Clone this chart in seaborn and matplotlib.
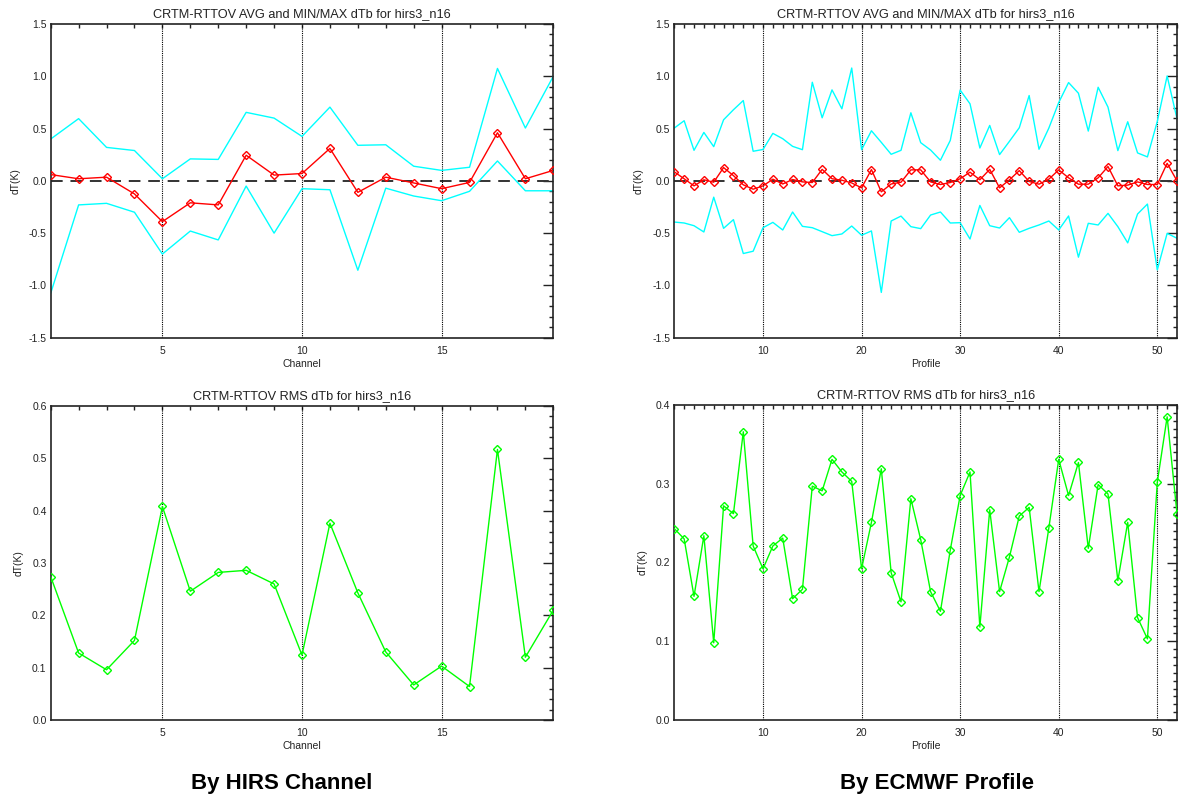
import numpy as np
import pandas as pd
import matplotlib
matplotlib.use("Agg")
import matplotlib.pyplot as plt
from matplotlib.ticker import MultipleLocator, FormatStrFormatter
import seaborn as sns

# ---------------- data ----------------
channels = list(range(1, 20))
chan_avg = [0.06, 0.02, 0.035, -0.125, -0.39, -0.21, -0.23, 0.245, 0.055, 0.07,
            0.31, -0.11, 0.035, -0.02, -0.075, -0.015, 0.46, 0.02, 0.10]
chan_max = [0.40, 0.595, 0.32, 0.29, 0.02, 0.21, 0.205, 0.655, 0.60, 0.425,
            0.705, 0.34, 0.345, 0.14, 0.10, 0.13, 1.075, 0.505, 1.0]
chan_min = [-1.075, -0.23, -0.215, -0.30, -0.70, -0.48, -0.565, -0.05, -0.50, -0.075,
            -0.085, -0.855, -0.07, -0.145, -0.19, -0.10, 0.19, -0.095, -0.095]
chan_rms = [0.274, 0.128, 0.096, 0.152, 0.408, 0.246, 0.282, 0.286, 0.260, 0.124,
            0.376, 0.243, 0.130, 0.067, 0.103, 0.064, 0.517, 0.120, 0.210]

profiles = list(range(1, 53))
prof_avg = [0.086, 0.02, -0.048, 0.01, -0.013, 0.127, 0.05, -0.038, -0.08, -0.048,
            0.016, -0.03, 0.013, -0.01, -0.016, 0.11, 0.02, 0.006, -0.02, -0.067,
            0.108, -0.105, -0.03, -0.013, 0.105, 0.105, -0.01, -0.035, -0.016, 0.02,
            0.083, 0.01, 0.11, -0.067, 0.01, 0.098, -0.006, -0.032, 0.016, 0.105,
            0.029, -0.032, -0.032, 0.029, 0.137, -0.048, -0.041, -0.01, -0.035, -0.035,
            0.168, 0.0]
prof_max = [0.505, 0.575, 0.292, 0.463, 0.327, 0.584, 0.68, 0.768, 0.283, 0.30,
            0.454, 0.403, 0.33, 0.298, 0.943, 0.603, 0.87, 0.689, 1.079, 0.298,
            0.479, 0.368, 0.254, 0.292, 0.651, 0.365, 0.295, 0.197, 0.387, 0.868,
            0.737, 0.314, 0.53, 0.251, 0.378, 0.508, 0.816, 0.302, 0.505, 0.749,
            0.94, 0.838, 0.476, 0.895, 0.705, 0.289, 0.565, 0.267, 0.229, 0.568,
            1.003, 0.594]
prof_min = [-0.394, -0.403, -0.429, -0.489, -0.156, -0.454, -0.371, -0.695, -0.673, -0.448,
            -0.397, -0.47, -0.298, -0.435, -0.448, -0.486, -0.524, -0.508, -0.432, -0.52,
            -0.479, -1.067, -0.384, -0.337, -0.438, -0.457, -0.327, -0.298, -0.403, -0.40,
            -0.556, -0.235, -0.429, -0.451, -0.352, -0.492, -0.454, -0.422, -0.384, -0.47,
            -0.336, -0.73, -0.406, -0.422, -0.311, -0.438, -0.593, -0.317, -0.222, -0.851,
            -0.502, -0.549]
prof_rms = [0.243, 0.230, 0.157, 0.234, 0.098, 0.272, 0.262, 0.366, 0.221, 0.192,
            0.221, 0.231, 0.154, 0.166, 0.297, 0.291, 0.331, 0.315, 0.303, 0.192,
            0.251, 0.319, 0.187, 0.150, 0.281, 0.229, 0.163, 0.138, 0.216, 0.285,
            0.315, 0.118, 0.267, 0.163, 0.207, 0.259, 0.270, 0.163, 0.244, 0.331,
            0.285, 0.327, 0.218, 0.299, 0.287, 0.177, 0.251, 0.130, 0.103, 0.302,
            0.385, 0.262]

chan_vlines = [5, 10, 15]
prof_vlines = [10, 20, 30, 40, 50]

title_avg = "CRTM-RTTOV AVG and MIN/MAX dTb for hirs3_n16"
title_rms = "CRTM-RTTOV RMS dTb for hirs3_n16"
ylabel = "dT(K)"
footer_left = "By HIRS Channel"
footer_right = "By ECMWF Profile"

# ---------------- style ----------------
sns.set_style("white")
plt.rcParams['font.family'] = ['Liberation Sans', 'DejaVu Sans']
plt.rcParams['axes.unicode_minus'] = False

TXT = "#222222"
CYAN = "#00FFFF"
RED = "#FF0000"
GREEN = "#00FF00"

W, H = 1186, 802
fig = plt.figure(figsize=(W / 100, H / 100), dpi=100)

def px_axes(left, top, right, bottom):
    return fig.add_axes([left / W, 1 - bottom / H, (right - left) / W, (bottom - top) / H])

ax_tl = px_axes(50.7, 24, 553.3, 337.7)
ax_tr = px_axes(674.3, 24, 1177, 337.7)
ax_bl = px_axes(50.7, 406, 553.3, 720)
ax_br = px_axes(674.3, 405, 1177, 720)


def style_axes(ax, xlim, ylim, xmajor, ymajor, yminor, xlabel, title):
    ax.set_xlim(*xlim)
    ax.set_ylim(*ylim)
    ax.xaxis.set_major_locator(MultipleLocator(xmajor))
    ax.xaxis.set_minor_locator(MultipleLocator(1))
    ax.yaxis.set_major_locator(MultipleLocator(ymajor))
    ax.yaxis.set_minor_locator(MultipleLocator(yminor))
    ax.yaxis.set_major_formatter(FormatStrFormatter('%.1f'))
    ax.tick_params(which='both', direction='in', top=True, right=True,
                   colors=TXT, width=1.0, labelsize=7.5, labelcolor=TXT)
    ax.tick_params(axis='y', which='major', length=7.2, pad=3)
    ax.tick_params(axis='y', which='minor', length=3.2)
    ax.tick_params(axis='x', which='major', length=3.2, pad=6)
    ax.tick_params(axis='x', which='minor', length=3.2)
    for sp in ax.spines.values():
        sp.set_color(TXT)
        sp.set_linewidth(1.2)
    ax.set_xlabel(xlabel, fontsize=7.5, color=TXT, labelpad=2)
    ax.set_ylabel(ylabel, fontsize=7.5, color=TXT, labelpad=6)
    ax.set_title(title, fontsize=9.2, color=TXT, pad=5)


def avg_panel(ax, x, avg, mx, mn, vlines, xlim, xmajor, xlabel):
    ax.axhline(0, color="#333333", ls=(0, (6, 4)), lw=1.4, zorder=1)
    for v in vlines:
        ax.axvline(v, color="black", ls=(0, (1, 1)), lw=0.8, zorder=1)
    df = pd.DataFrame({"x": x, "avg": avg, "max": mx, "min": mn})
    sns.lineplot(data=df, x="x", y="max", ax=ax, color=CYAN, lw=1.0, zorder=2)
    sns.lineplot(data=df, x="x", y="min", ax=ax, color=CYAN, lw=1.0, zorder=2)
    sns.lineplot(data=df, x="x", y="avg", ax=ax, color=RED, lw=1.0, zorder=3,
                 marker="D", markersize=4.5, markerfacecolor="none",
                 markeredgecolor=RED, markeredgewidth=1.0)
    style_axes(ax, xlim, (-1.5, 1.5), xmajor, 0.5, 0.1, xlabel, title_avg)


def rms_panel(ax, x, rms, vlines, xlim, ylim, xmajor, yminor, xlabel):
    for v in vlines:
        ax.axvline(v, color="black", ls=(0, (1, 1)), lw=0.8, zorder=1)
    df = pd.DataFrame({"x": x, "rms": rms})
    sns.lineplot(data=df, x="x", y="rms", ax=ax, color=GREEN, lw=1.0, zorder=3,
                 marker="D", markersize=4.5, markerfacecolor="none",
                 markeredgecolor=GREEN, markeredgewidth=1.0)
    style_axes(ax, xlim, ylim, xmajor, 0.1, yminor, xlabel, title_rms)


avg_panel(ax_tl, channels, chan_avg, chan_max, chan_min, chan_vlines, (1, 19), 5, "Channel")
avg_panel(ax_tr, profiles, prof_avg, prof_max, prof_min, prof_vlines, (1, 52), 10, "Profile")
rms_panel(ax_bl, channels, chan_rms, chan_vlines, (1, 19), (0, 0.6), 5, 0.02, "Channel")
rms_panel(ax_br, profiles, prof_rms, prof_vlines, (1, 52), (0, 0.4), 10, 0.01, "Profile")

fig.text(282 / W, 1 - 783 / H, footer_left, fontsize=16, fontweight="bold",
         ha="center", va="center", color="black")
fig.text(937 / W, 1 - 783 / H, footer_right, fontsize=16, fontweight="bold",
         ha="center", va="center", color="black")

fig.savefig("out.png", dpi=100, facecolor="white")
